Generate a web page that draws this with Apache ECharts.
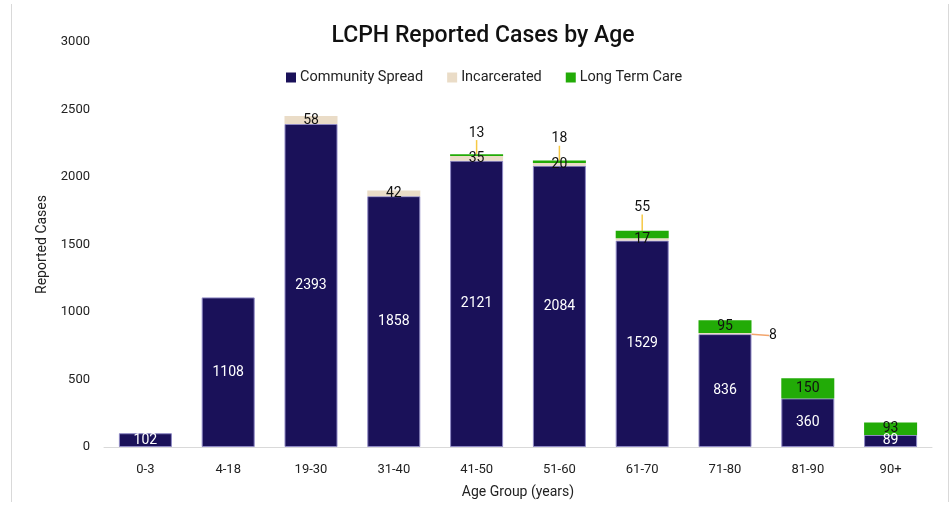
<!DOCTYPE html>
<html>
<head>
<meta charset="utf-8">
<script src="https://cdn.jsdelivr.net/npm/echarts@6/dist/echarts.min.js"></script>
<style>
  html, body { margin: 0; padding: 0; background: #fff; }
  #chart { width: 951px; height: 506px; }
</style>
</head>
<body>
<div id="chart"></div>
<script>
const ageGroups = ["0-3", "4-18", "19-30", "31-40", "41-50", "51-60", "61-70", "71-80", "81-90", "90+"];
const communitySpread = [102, 1108, 2393, 1858, 2121, 2084, 1529, 836, 360, 89];
const incarcerated = [0, 0, 58, 42, 35, 20, 17, 8, 0, 0];
const longTermCare = [0, 0, 0, 0, 13, 18, 55, 95, 150, 93];
const yTicks = { min: 0, max: 3000, interval: 500 };

const NAVY = "#1a1159";
const TAN = "#eadcc7";
const GREEN = "#22ab07";
const FONT = "Roboto";

// labels pulled off the bar with a leader line
const ltcCallouts = { 4: -22, 5: -23, 6: -27 };
const incCallouts = { 7: { dx: 48, dy: 2 } };

const chart = echarts.init(document.getElementById("chart"));

const hideZero = (p) => (p.value ? String(p.value) : "");

chart.setOption({
  backgroundColor: "#fff",
  animation: false,
  textStyle: { fontFamily: FONT },
  title: {
    text: "LCPH Reported Cases by Age",
    left: 478,
    top: 20,
    textAlign: "center",
    textStyle: { fontFamily: FONT, fontSize: 23, fontWeight: 500, color: "#111" },
  },
  legend: {
    top: 65,
    left: 281,
    itemWidth: 10,
    itemHeight: 10,
    itemGap: 24,
    icon: "rect",
    selectedMode: false,
    itemStyle: { borderWidth: 0 },
    textStyle: { fontFamily: FONT, fontSize: 14.5, color: "#222", padding: [0, 0, 0, -1] },
    data: ["Community Spread", "Incarcerated", "Long Term Care"],
  },
  graphic: [
    { type: "line", shape: { x1: 11.5, y1: 4, x2: 11.5, y2: 502 }, style: { stroke: "#d9d9d9", lineWidth: 1 } },
    { type: "line", shape: { x1: 948.5, y1: 4, x2: 948.5, y2: 502 }, style: { stroke: "#d9d9d9", lineWidth: 1 } },
  ],
  grid: { left: 104, right: 19, top: 42, bottom: 59 },
  xAxis: {
    type: "category",
    data: ageGroups,
    name: "Age Group (years)",
    nameLocation: "middle",
    nameGap: 38,
    nameTextStyle: { fontFamily: FONT, fontSize: 14, color: "#222" },
    axisLine: { lineStyle: { color: "#d9d9d9", width: 1 } },
    axisTick: { show: false },
    axisLabel: { fontFamily: FONT, fontSize: 13, color: "#222", margin: 16 },
  },
  yAxis: {
    type: "value",
    min: yTicks.min,
    max: yTicks.max,
    interval: yTicks.interval,
    name: "Reported Cases",
    nameLocation: "middle",
    nameGap: 50,
    nameTextStyle: { fontFamily: FONT, fontSize: 14, color: "#222" },
    axisLine: { show: false },
    axisTick: { show: false },
    splitLine: { show: false },
    axisLabel: { fontFamily: FONT, fontSize: 13, color: "#222", margin: 14, formatter: (v) => String(v) },
  },
  series: [
    {
      name: "Community Spread",
      type: "bar",
      stack: "total",
      barWidth: 53,
      data: communitySpread,
      itemStyle: { color: NAVY, borderColor: "#8f89c4", borderWidth: 1 },
      label: {
        show: true,
        position: "inside",
        formatter: hideZero,
        color: "#fff",
        fontFamily: FONT,
        fontSize: 14,
      },
    },
    {
      name: "Incarcerated",
      type: "bar",
      stack: "total",
      barWidth: 53,
      data: incarcerated.map((v, i) =>
        incCallouts[i]
          ? { value: v, labelLine: { show: true, lineStyle: { color: "#f3a56c", width: 1.5 } } }
          : v
      ),
      itemStyle: { color: TAN },
      label: {
        show: true,
        position: "inside",
        formatter: hideZero,
        color: "#111",
        fontFamily: FONT,
        fontSize: 14,
      },
      labelLayout: (p) => (incCallouts[p.dataIndex] ? incCallouts[p.dataIndex] : {}),
    },
    {
      name: "Long Term Care",
      type: "bar",
      stack: "total",
      barWidth: 53,
      data: longTermCare.map((v, i) =>
        ltcCallouts[i] !== undefined
          ? { value: v, labelLine: { show: true, lineStyle: { color: "#f6c945", width: 1.5 } } }
          : v
      ),
      itemStyle: { color: GREEN },
      label: {
        show: true,
        position: "inside",
        formatter: hideZero,
        color: "#111",
        fontFamily: FONT,
        fontSize: 14,
      },
      labelLayout: (p) =>
        ltcCallouts[p.dataIndex] !== undefined ? { dy: ltcCallouts[p.dataIndex] } : {},
    },
  ],
});
</script>
</body>
</html>
